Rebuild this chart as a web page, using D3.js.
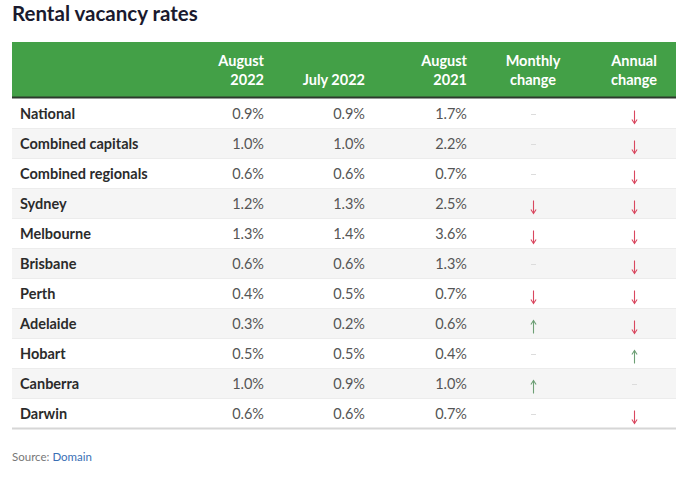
<!DOCTYPE html>
<html><head><meta charset="utf-8">
<script src="https://cdn.jsdelivr.net/npm/d3@7"></script>
<style>
body{margin:0;background:#fff;}
svg{display:block;font-family:"Lato","Noto Sans",sans-serif;}
</style></head>
<body><svg id="c" width="679" height="477"></svg>
<script>
const title = "Rental vacancy rates";
const regions = ["National","Combined capitals","Combined regionals","Sydney","Melbourne","Brisbane","Perth","Adelaide","Hobart","Canberra","Darwin"];
const aug2022 = [0.9,1.0,0.6,1.2,1.3,0.6,0.4,0.3,0.5,1.0,0.6];
const jul2022 = [0.9,1.0,0.6,1.3,1.4,0.6,0.5,0.2,0.5,0.9,0.6];
const aug2021 = [1.7,2.2,0.7,2.5,3.6,1.3,0.7,0.6,0.4,1.0,0.7];
const headers = [["",""],["August","2022"],["","July 2022"],["August","2021"],["Monthly","change"],["Annual","change"]];

const svg = d3.select("#c");
const L = 12, R = 676;
svg.append("text").attr("x",12).attr("y",21).attr("font-size",20.5).attr("font-weight","bold")
  .attr("fill","#1a1a2e").text(title);

// header
const hTop = 42, hBot = 97;
svg.append("rect").attr("x",L).attr("y",hTop).attr("width",R-L).attr("height",hBot-hTop).attr("fill","#43a047");
svg.append("line").attr("x1",L).attr("x2",R).attr("y1",hBot+0.5).attr("y2",hBot+0.5).attr("stroke","#2d3a2d").attr("stroke-width",2);

const colX = [20, 264, 365, 467, 533, 634];
const colAnchor = ["start","end","end","end","middle","middle"];

const hg = svg.append("g").attr("fill","#fff").attr("font-weight","bold").attr("font-size",14.5);
headers.forEach((h,i)=>{
  h.forEach((t,j)=>{
    if(!t) return;
    hg.append("text").attr("x",colX[i]).attr("y",66+j*19).attr("text-anchor",colAnchor[i]).text(t);
  });
});

const y = d3.scaleBand().domain(regions).range([99,429]);
const rows = svg.append("g").selectAll("g").data(regions).join("g")
  .attr("transform",d=>`translate(0,${y(d)})`);
rows.append("rect").attr("x",L).attr("width",R-L).attr("height",y.bandwidth())
  .attr("fill",(d,i)=>i%2? "#f5f5f5":"#fff");
rows.append("line").attr("x1",L).attr("x2",R).attr("y1",y.bandwidth()-0.5).attr("y2",y.bandwidth()-0.5)
  .attr("stroke",(d,i)=>i===regions.length-1?"#d6d6d6":"#ececec").attr("stroke-width",(d,i)=>i===regions.length-1?2:1);

const ty = y.bandwidth()/2 + 5;
rows.append("text").attr("x",colX[0]).attr("y",ty).attr("font-size",14.5).attr("font-weight","bold").attr("fill","#2b2b2b").text(d=>d);
const fmt = v => v.toFixed(1)+"%";
[aug2022,jul2022,aug2021].forEach((arr,k)=>{
  rows.append("text").attr("x",colX[k+1]).attr("y",ty).attr("text-anchor","end")
    .attr("font-size",14.5).attr("fill","#555").text((d,i)=>fmt(arr[i]));
});
function sym(a,b){ return a>b? "up" : a<b? "down" : "same"; }
function drawChange(col, prev){
  rows.each(function(d,i){
    const g = d3.select(this);
    const s = sym(aug2022[i], prev[i]);
    const x = colX[col] + 0.5;
    const c = y.bandwidth()/2 + 3;
    if(s==="same"){
      g.append("line").attr("x1",x-2.5).attr("x2",x+2.5).attr("y1",c-2.5).attr("y2",c-2.5).attr("stroke","#dcdcdc").attr("stroke-width",1);
    } else {
      const col_ = s==="up" ? "#6d9f75" : "#d9475f";
      const tip = s==="up" ? c-6.5 : c+6.5, tail = s==="up" ? c+6.5 : c-6.5;
      const dir = s==="up" ? 1 : -1;
      g.append("line").attr("x1",x).attr("x2",x).attr("y1",tail).attr("y2",tip).attr("stroke",col_).attr("stroke-width",1.1);
      g.append("path").attr("d",`M${x-2.6},${tip+dir*4}L${x},${tip}L${x+2.6},${tip+dir*4}`)
        .attr("fill","none").attr("stroke",col_).attr("stroke-width",1.1);
    }
  });
}
drawChange(4, jul2022);
drawChange(5, aug2021);

const src = svg.append("text").attr("x",12).attr("y",461).attr("font-size",11.5);
src.append("tspan").attr("fill","#777").text("Source: ");
src.append("tspan").attr("fill","#3a6fb5").text("Domain");
</script></body></html>
